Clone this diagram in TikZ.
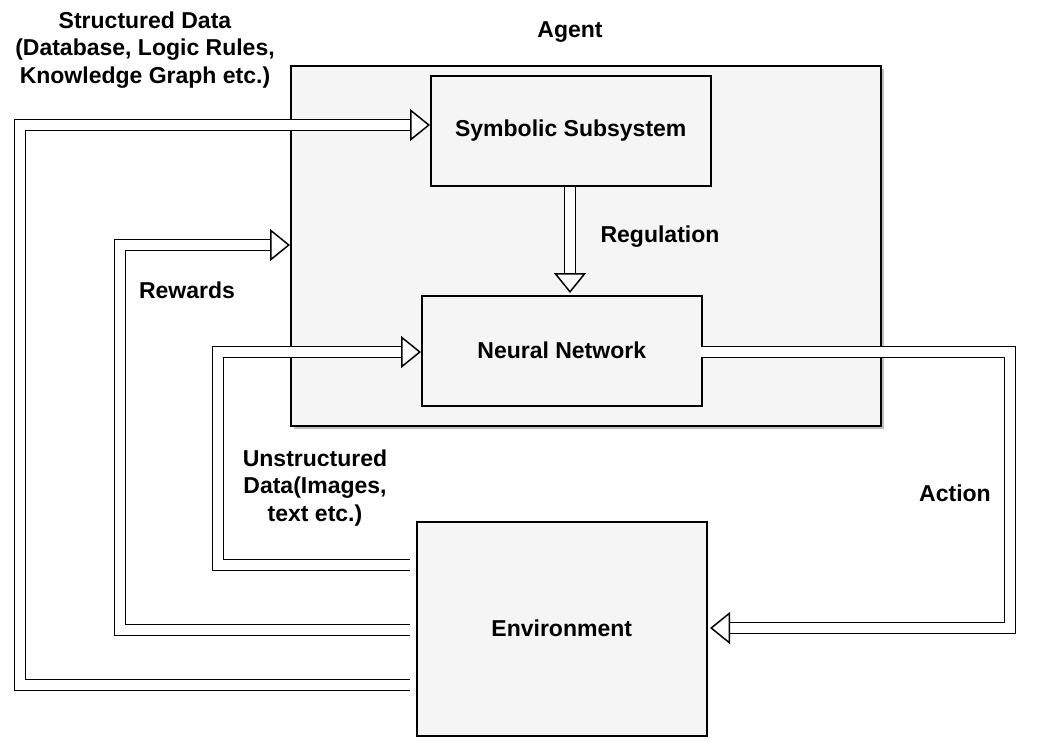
\documentclass[tikz,border=0pt]{standalone}
\usepackage{fontspec}
\setmainfont{Liberation Sans}
\usetikzlibrary{arrows.meta}
\definecolor{boxgray}{HTML}{F5F5F5}
\tikzset{
  block/.style={draw, line width=1.5pt, fill=boxgray, anchor=north west, inner sep=0pt},
  label/.style={font=\fontsize{23}{27.5}\selectfont\bfseries, align=center},
  shaft/.style={draw=black, double=white, double distance=9.5pt, line width=1.5pt, shorten >=19pt},
  head/.style={draw=white, line width=1pt, -{Triangle[open, color=black, fill=white, line width=1.5pt, length=20pt, width=32pt]}}
}
\begin{document}
\begin{tikzpicture}[x=1pt, y=-1pt]
  \useasboundingbox (0,0) rectangle (1056,740);
  % Blocks
  \fill[black!25] (294,69) rectangle (884,429);
  \node[block, minimum width=590pt, minimum height=360pt] (agent) at (290,65) {};
  \node[block, minimum width=280pt, minimum height=110pt] (sym) at (430,75) {};
  \node[block, minimum width=280pt, minimum height=110pt] (nn) at (421,295) {};
  \node[block, minimum width=290pt, minimum height=214pt] (env) at (416,521) {};
  % Texts
  \node[label] at (sym.center) {Symbolic Subsystem};
  \node[label] at (nn.center) {Neural Network};
  \node[label] at (env.center) {Environment};
  \node[label] (agentlbl) at (570,32) {Agent};
  \node[label] (structlbl) at (145,50) {Structured Data\\(Database, Logic Rules,\\Knowledge Graph etc.)};
  \node[label] (reglbl) at (660,237) {Regulation};
  \node[label] (rewlbl) at (187,290) {Rewards};
  \node[label] (unstlbl) at (315,488) {Unstructured\\Data(Images,\\text etc.)};
  \node[label] (actlbl) at (955,493) {Action};
  % Free ends
  \coordinate (e1) at (410,685);
  \coordinate (e2) at (410,630);
  \coordinate (e3) at (410,565);
  \coordinate (rw) at (290,245);
  \coordinate (sy) at (430,130);
  \coordinate (ny) at (421,352);
  \coordinate (ax) at (701,352);
  \coordinate (ex) at (710,628);
  % Connectors
  \draw[shaft] (e1) -- (20,685) -- (20,125) -- (sy |- 0,125);
  \draw[head] (390,125) -- (sy |- 0,125);
  \draw[shaft] (e2) -- (120,630) -- (120,245) -- (rw);
  \draw[head] (250,245) -- (rw);
  \draw[shaft] (e3) -- (218,565) -- (218,352) -- (ny);
  \draw[head] (380,352) -- (ny);
  \draw[shaft] (570,187) -- (570,293);
  \draw[head] (570,250) -- (570,293);
  \draw[shaft] (ax) -- (1010,352) -- (1010,628) -- (ex);
  \draw[head] (750,628) -- (ex);
\end{tikzpicture}
\end{document}
